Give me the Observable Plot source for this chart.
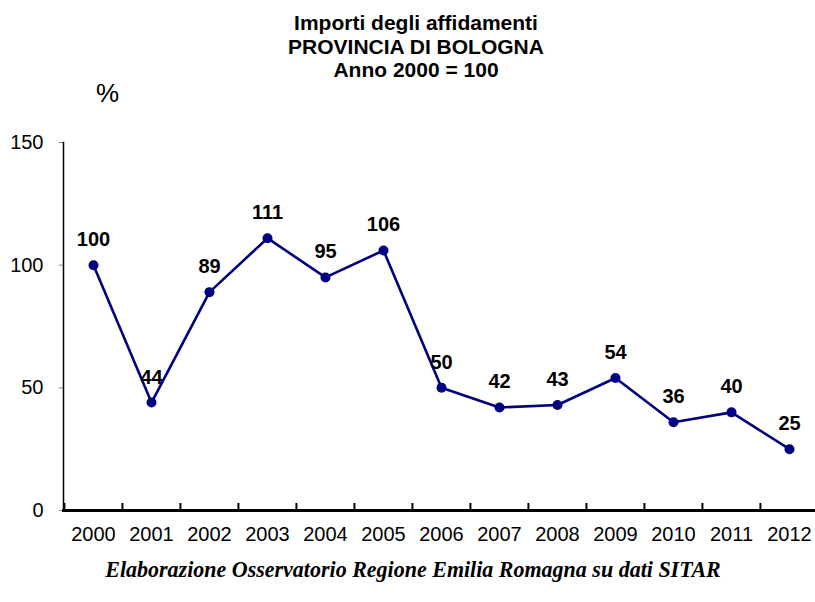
<!DOCTYPE html>
<html>
<head>
<meta charset="utf-8">
<script src="https://cdn.jsdelivr.net/npm/d3@7"></script>
<script src="https://cdn.jsdelivr.net/npm/@observablehq/plot@0.6"></script>
<style>
  html, body { margin: 0; padding: 0; background: #fff; }
  #wrap { position: relative; width: 815px; height: 602px; overflow: hidden; background: #fff; }
  #title { position: absolute; left: 0; top: 11px; width: 832px; text-align: center; z-index: 2;
           font: bold 21px "Liberation Sans", Arial, sans-serif; line-height: 23.5px; color: #000; }
  #pct { position: absolute; left: 96px; top: 78px; z-index: 2; font: 26px "Liberation Sans", Arial, sans-serif; color: #000; }
  #chart { position: absolute; left: 0; top: 83px; z-index: 1; }
  #caption { position: absolute; left: 0; top: 556px; width: 826px; text-align: center; z-index: 2;
             font: italic bold 22px "Liberation Serif", "Times New Roman", serif; color: #000;
             transform: scaleY(1.08); transform-origin: 50% 50%; }
</style>
</head>
<body>
<div id="wrap">
  <div id="title">Importi degli affidamenti<br>PROVINCIA DI BOLOGNA<br>Anno 2000 = 100</div>
  <div id="chart"></div>
  <div id="pct">%</div>
  <div id="caption">Elaborazione Osservatorio Regione Emilia Romagna su dati SITAR</div>
</div>
<script>
const years = ["2000","2001","2002","2003","2004","2005","2006","2007","2008","2009","2010","2011","2012"];
const values = [100, 44, 89, 111, 95, 106, 50, 42, 43, 54, 36, 40, 25];
const yTicks = [0, 50, 100, 150];

const data = years.map((y, i) => ({year: y, value: values[i]}));
const step = 58.15;

const chart = Plot.plot({
  width: 815,
  height: 467,
  marginLeft: 63,
  marginRight: 0,
  marginTop: 59,
  marginBottom: 40,
  style: {fontFamily: "'Liberation Sans', Arial, sans-serif", fontSize: "20px", color: "#000", background: "transparent", overflow: "visible"},
  x: {type: "band", domain: years, range: [63, 63 + step * years.length], padding: 0, align: 0.5},
  y: {domain: [0, 150], ticks: yTicks},
  marks: [
    Plot.axisY({ticks: yTicks, tickSize: 4, tickPadding: 16, stroke: "#888", fontSize: 20, label: null}),
    Plot.axisX({tickSize: -7, tickFormat: () => "", dx: -step / 2, strokeWidth: 2, label: null}),
    Plot.axisX({tickSize: 0, tickPadding: 16, fontSize: 20, label: null}),
    Plot.frame({anchor: "left", stroke: "#000", strokeWidth: 1.5}),
    Plot.frame({anchor: "bottom", stroke: "#000", strokeWidth: 3}),
    Plot.line(data, {x: "year", y: "value", stroke: "#000080", strokeWidth: 2.6}),
    Plot.dot(data, {x: "year", y: "value", r: 5, fill: "#000080", stroke: "none"}),
    Plot.text(data, {x: "year", y: "value", text: d => String(d.value), lineAnchor: "bottom", dy: -19,
      fontWeight: "bold", fontSize: 20, fill: "#000"})
  ]
});
document.getElementById("chart").appendChild(chart);
</script>
</body>
</html>
